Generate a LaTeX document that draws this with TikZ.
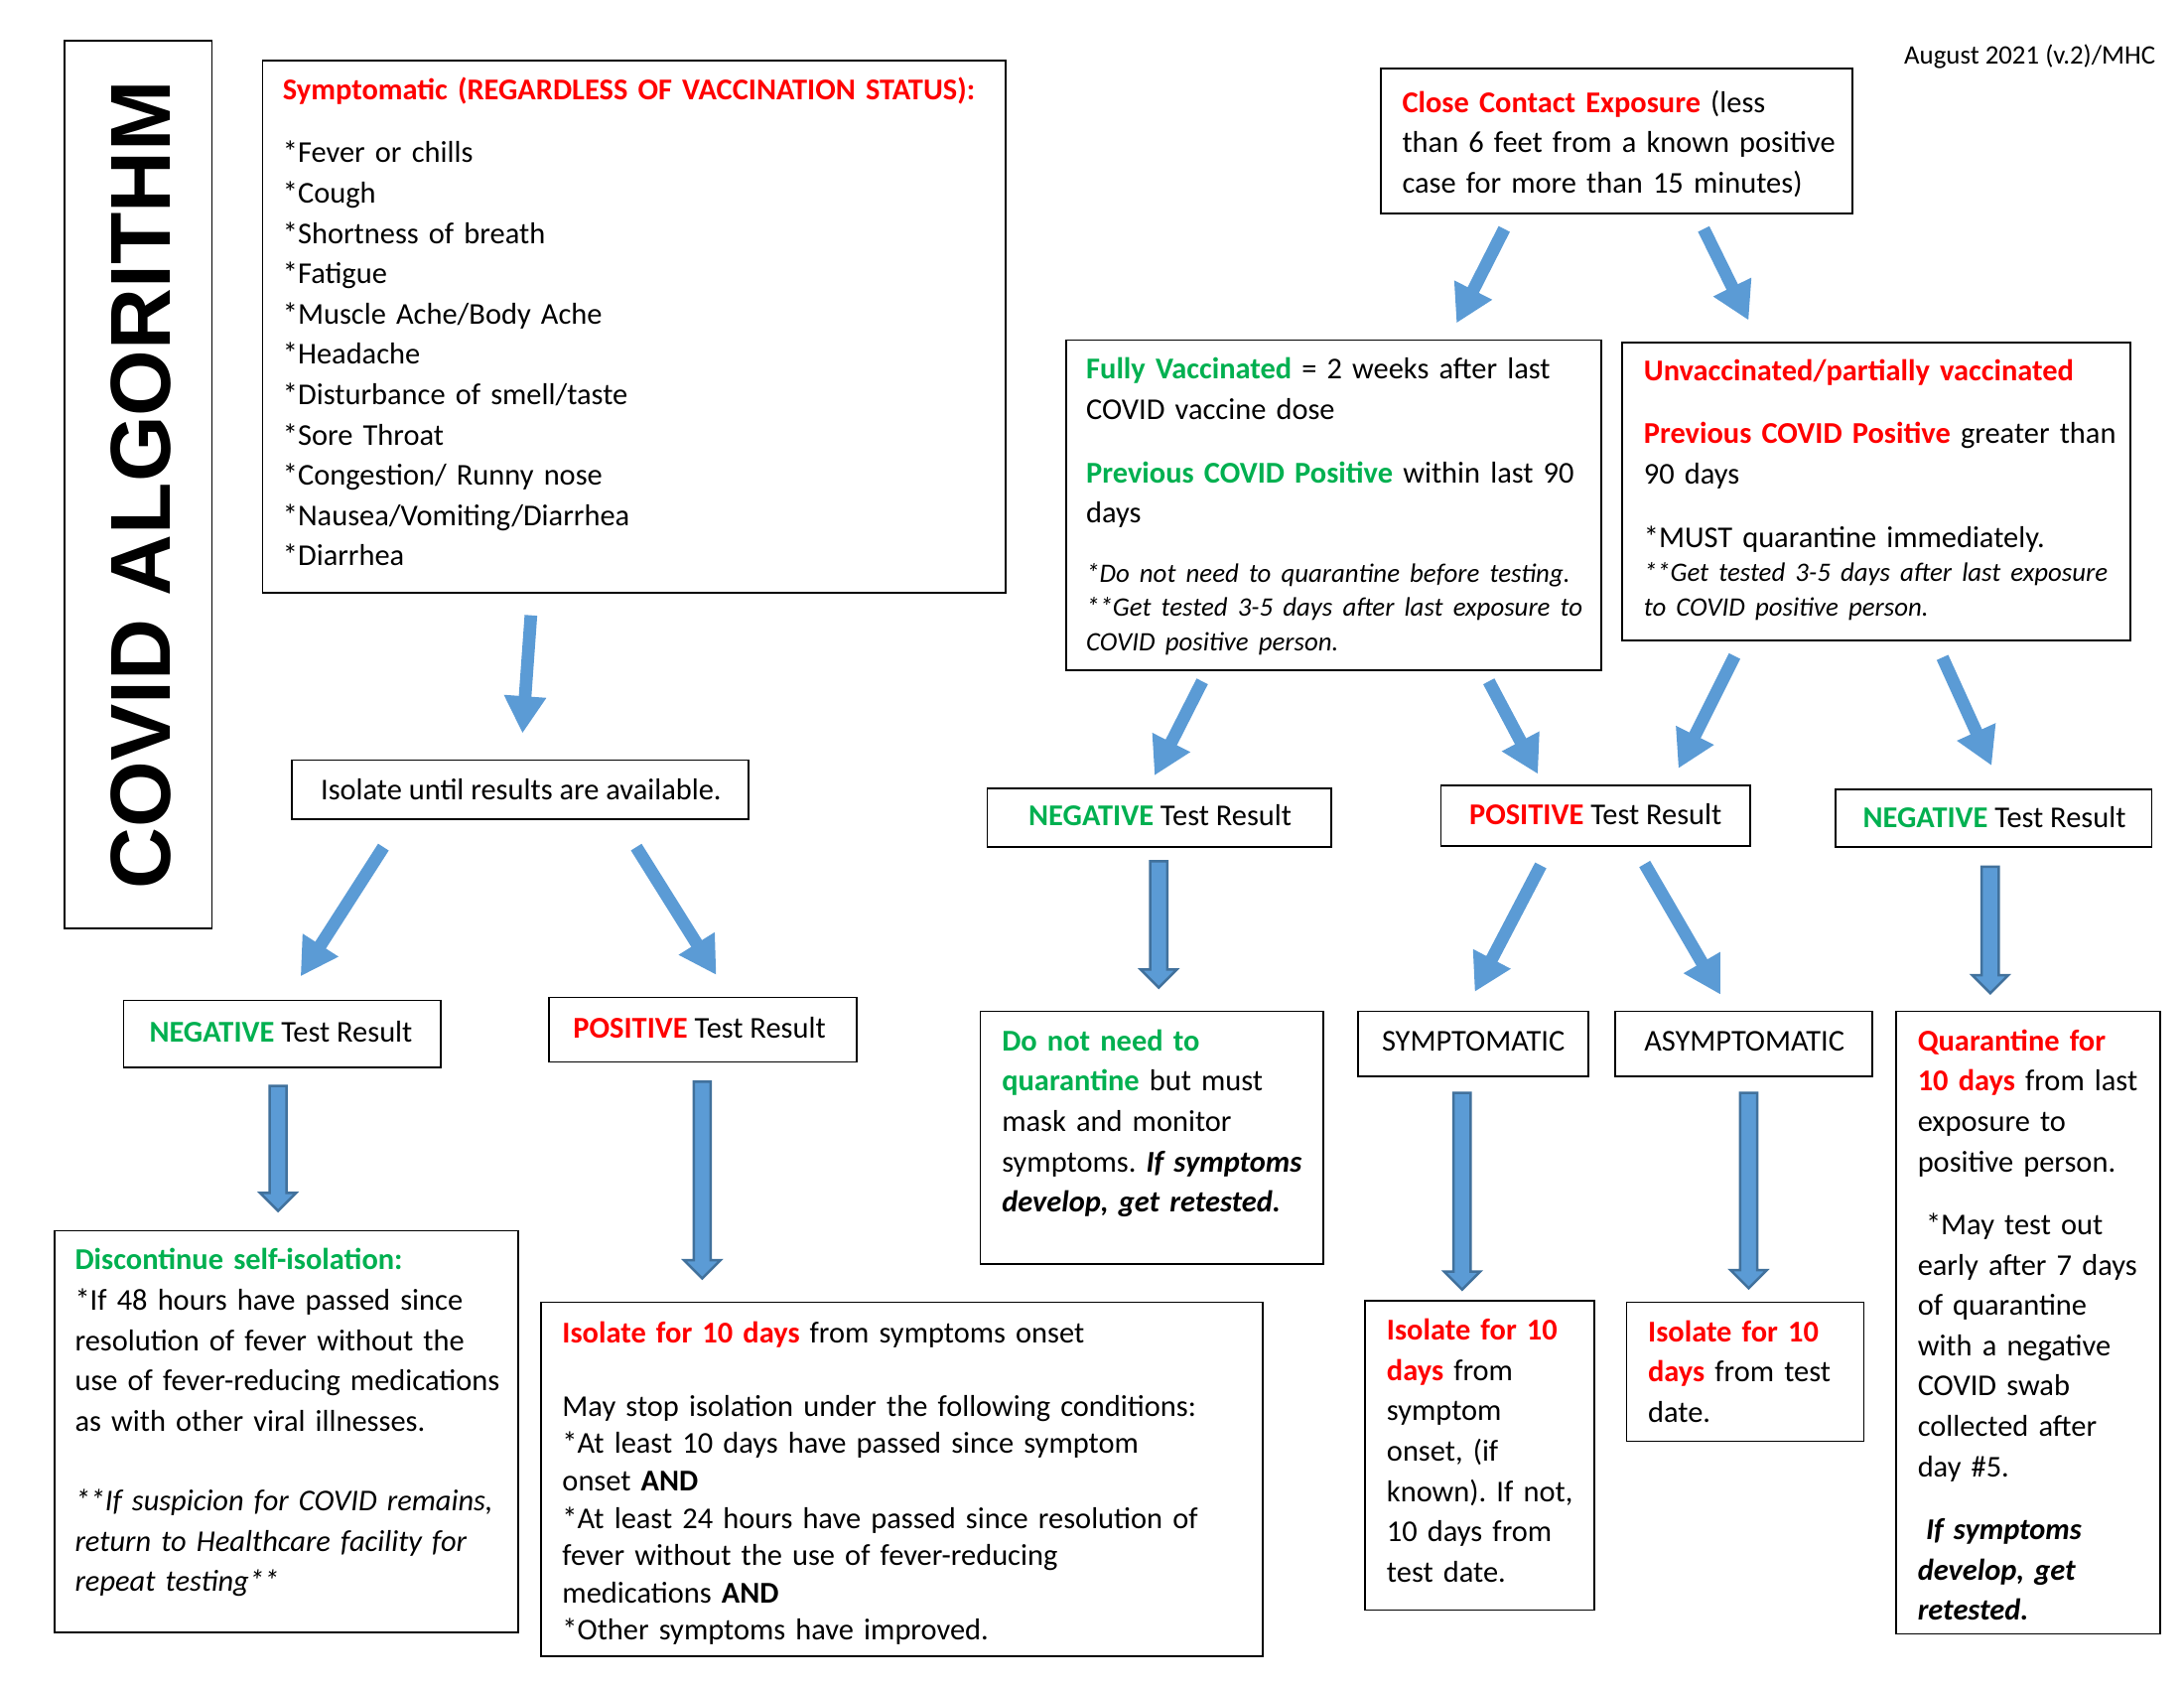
\documentclass[tikz,border=0pt]{standalone}
\usepackage{fontspec}
\setmainfont{Carlito}
\newfontfamily\titlefont{Liberation Sans}
\usetikzlibrary{arrows.meta,calc,fit}
\definecolor{covidred}{RGB}{255,0,0}
\definecolor{covidgreen}{RGB}{0,176,80}
\definecolor{arrowblue}{RGB}{91,155,213}
\definecolor{arrowedge}{RGB}{65,113,156}
\newcommand{\redb}[1]{\textcolor{covidred}{\bfseries #1}}
\newcommand{\greenb}[1]{\textcolor{covidgreen}{\bfseries #1}}
\newcommand{\blockdown}[2]{%
  \draw[vblock] let \p1=(#1), \p2=(#2) in
    (\x1-3.1pt,\y1) -- (\x1+3.1pt,\y1) -- (\x1+3.1pt,\y2+6.6pt) -- (\x1+6.6pt,\y2+6.6pt)
    -- (\x1,\y2) -- (\x1-6.6pt,\y2+6.6pt) -- (\x1-3.1pt,\y2+6.6pt) -- cycle;}
\tikzset{
  box/.style={draw, line width=0.6pt, inner sep=0pt},
  lbl/.style={anchor=base, inner sep=0pt, font=\fontsize{11}{13.4}\selectfont},
  txt/.style={anchor=base west, inner sep=0pt, align=left, font=\fontsize{11}{14.67}\selectfont},
  slant/.style={draw=arrowblue, line width=4.6pt, -{Triangle[width=14.5pt,length=13.5pt]}},
  vblock/.style={draw=arrowedge, fill=arrowblue, line width=0.9pt}
}
\frenchspacing
\begin{document}
\begin{tikzpicture}[x=0.01797cm,y=-0.01797cm]
  \useasboundingbox[fill=white] (0,0) rectangle (1555,1202);

  % title and date
  \node[box, fit={(46,29) (151,661)}] (titlebox) {};
  \node[rotate=90, inner sep=0pt, font=\titlefont\bfseries\fontsize{31}{31}\selectfont] (title) at (100,345) {COVID ALGORITHM};
  \node[anchor=east, inner sep=0pt, font=\fontsize{9.7}{11}\selectfont] (date) at (1535,40) {August 2021 (v.2)/MHC};

  % left branch
  \node[box, fit={(187,43) (716,422)}] (symp) {};
  \node[txt, text width=262pt] (symp-t) at (201,71) {\redb{Symptomatic (REGARDLESS OF VACCINATION STATUS):}\\[8.3pt]
    {*}Fever or chills\\ {*}Cough\\ {*}Shortness of breath\\ {*}Fatigue\\ {*}Muscle Ache/Body Ache\\ {*}Headache\\
    {*}Disturbance of smell/taste\\ {*}Sore Throat\\ {*}Congestion/ Runny nose\\ {*}Nausea/Vomiting/Diarrhea\\ {*}Diarrhea};
  \node[box, fit={(208,541) (533,583)}] (isol) {};
  \node[lbl] (isol-t) at (371,569) {Isolate until results are available.};
  \node[box, fit={(88,712) (314,760)}] (negl) {};
  \node[lbl] (negl-t) at (200,742) {\greenb{NEGATIVE} Test Result};
  \node[box, fit={(391,710) (610,756)}] (posl) {};
  \node[lbl] (posl-t) at (498,739) {\redb{POSITIVE} Test Result};
  \node[box, fit={(39,876) (369,1162)}] (disc) {};
  \node[txt, text width=165pt] (disc-t) at (53,904) {\greenb{Discontinue self-isolation:}\\ {*}If 48 hours have passed since\\
    resolution of fever without the\\ use of fever-reducing medications\\ as with other viral illnesses.\\[14.3pt]
    \itshape {*}{*}If suspicion for COVID remains,\\ return to Healthcare facility for\\ repeat testing{*}{*}};
  \node[box, fit={(385,927) (899,1179)}] (iso10) {};
  \node[txt, text width=258pt, font=\fontsize{11}{13.6}\selectfont] (iso10-t) at (400,956) {\redb{Isolate for 10 days} from symptoms onset\\[13pt]
    May stop isolation under the following conditions:\\ {*}At least 10 days have passed since symptom\\ onset \textbf{AND}\\
    {*}At least 24 hours have passed since resolution of\\ fever without the use of fever-reducing\\ medications \textbf{AND}\\
    {*}Other symptoms have improved.};

  % right branch
  \node[box, fit={(983,49) (1319,152)}] (close) {};
  \node[txt, text width=168pt] (close-t) at (998,80) {\redb{Close Contact Exposure} (less\\ than 6 feet from a known positive\\
    case for more than 15 minutes)};
  \node[box, fit={(759,242) (1140,477)}] (full) {};
  \node[txt, text width=190pt] (full-t) at (773,270) {\greenb{Fully Vaccinated} = 2 weeks after last\\ COVID vaccine dose\\[8.3pt]
    \greenb{Previous COVID Positive} within last 90\\ days\par\vspace{9pt}
    {\fontsize{9.7}{12.5}\selectfont\itshape {*}Do not need to quarantine before testing.\\
    {*}{*}Get tested 3-5 days after last exposure to\\ COVID positive person.\par}};
  \node[box, fit={(1155,244) (1517,456)}] (unv) {};
  \node[txt, text width=180pt] (unv-t) at (1170,271) {\redb{Unvaccinated/partially vaccinated}\\[8.3pt]
    \redb{Previous COVID Positive} greater than\\ 90 days\\[8.3pt] {*}MUST quarantine immediately.\par
    {\fontsize{9.7}{12.5}\selectfont\itshape {*}{*}Get tested 3-5 days after last exposure\\ to COVID positive person.\par}};
  \node[box, fit={(703,561) (948,603)}] (negm) {};
  \node[lbl] (negm-t) at (826,588) {\greenb{NEGATIVE} Test Result};
  \node[box, fit={(1026,559) (1246,602)}] (posm) {};
  \node[lbl] (posm-t) at (1136,587) {\redb{POSITIVE} Test Result};
  \node[box, fit={(1307,562) (1532,603)}] (negr) {};
  \node[lbl] (negr-t) at (1420,589) {\greenb{NEGATIVE} Test Result};
  \node[box, fit={(698,720) (942,900)}] (dnn) {};
  \node[txt, text width=120pt] (dnn-t) at (713,748) {{\color{covidgreen}\bfseries Do not need to\\ quarantine} but must\\
    mask and monitor\\ symptoms. {\bfseries\itshape If symptoms\\ develop, get retested.}};
  \node[box, fit={(967,720) (1131,766)}] (sym) {};
  \node[lbl] (sym-t) at (1049,748) {SYMPTOMATIC};
  \node[box, fit={(1150,720) (1333,766)}] (asym) {};
  \node[lbl] (asym-t) at (1242,748) {ASYMPTOMATIC};
  \node[box, fit={(972,926) (1135,1146)}] (isy) {};
  \node[txt, text width=80pt] (isy-t) at (987,954) {{\color{covidred}\bfseries Isolate for 10\\ days} from\\ symptom\\
    onset, (if\\ known). If not,\\ 10 days from\\ test date.};
  \node[box, fit={(1158,927) (1327,1026)}] (iasy) {};
  \node[txt, text width=82pt] (iasy-t) at (1173,955) {{\color{covidred}\bfseries Isolate for 10\\ days} from test\\ date.};
  \node[box, fit={(1350,720) (1538,1163)}] (quar) {};
  \node[txt, text width=92pt] (quar-t) at (1365,748) {{\color{covidred}\bfseries Quarantine for\\ 10 days} from last\\
    exposure to\\ positive person.\\[8.3pt]
    \hspace*{3pt}{*}May test out\\ early after 7 days\\ of quarantine\\ with a negative\\ COVID swab\\ collected after\\ day \#5.\\[8.3pt]
    \hspace*{3pt}{\bfseries\itshape If symptoms\\ develop, get\\ retested.}};

  % arrow ends
  \foreach \n/\x/\y in {a1-t/378/438, a1-h/372/522, a2-t/273/603, a2-h/214/695, a3-t/453/603, a3-h/510/694,
    a4-t/1071/163, a4-h/1037/230, a5-t/1213/163, a5-h/1245/228, a6-t/856/485, a6-h/822/552,
    a7-t/1060/485, a7-h/1095/551, a8-t/1235/467, a8-h/1195/547, a9-t/1383/468, a9-h/1418/545,
    a10-t/1097/616, a10-h/1050/706, a11-t/1171/615, a11-h/1225/708}
    \coordinate (\n) at (\x,\y);
  \foreach \n/\x/\ya/\yb in {b1/198/773/862, b2/500/770/910, b3/825/613/703,
    b4/1417/617/707, b5/1041/778/918, b6/1245/778/917} {
    \coordinate (\n-t) at (\x,\ya);
    \coordinate (\n-h) at (\x,\yb);
  }

  \foreach \i in {1,...,11}
    \draw[slant] (a\i-t) -- (a\i-h);
  \foreach \i in {1,...,6}
    \blockdown{b\i-t}{b\i-h};
\end{tikzpicture}
\end{document}
